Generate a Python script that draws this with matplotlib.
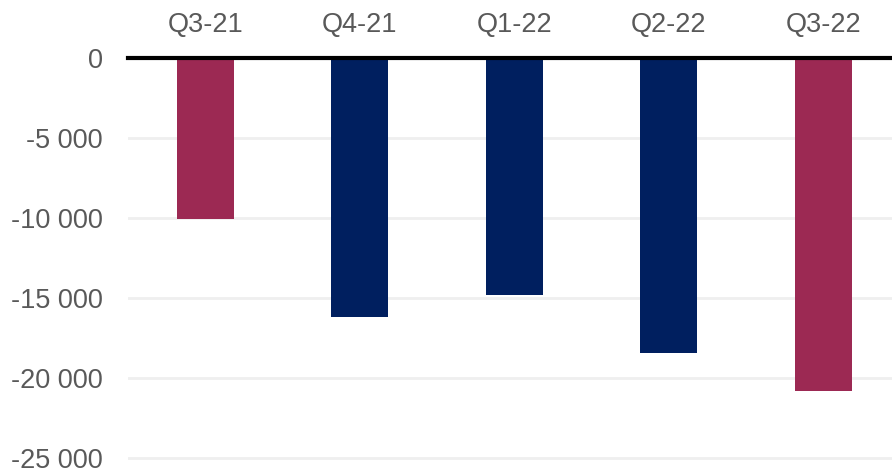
import matplotlib
matplotlib.use("Agg")
import matplotlib.pyplot as plt
from matplotlib.ticker import FuncFormatter

categories = ["Q3-21", "Q4-21", "Q1-22", "Q2-22", "Q3-22"]
values = [-10070, -16240, -14860, -18470, -20820]
colors = ["#9C2953", "#001F5F", "#001F5F", "#001F5F", "#9C2953"]
yticks = [0, -5000, -10000, -15000, -20000, -25000]

plt.rcParams['font.family'] = ['Liberation Sans', 'DejaVu Sans']

fig = plt.figure(figsize=(8.92, 4.71), dpi=100)
W, H = 892, 471
top_px, bot_px = 57.5, 463
left_px, right_px = 128, 900.5
ax = fig.add_axes([left_px / W, 1 - bot_px / H, (right_px - left_px) / W, (bot_px - top_px) / H])

x = range(len(categories))
ax.bar(x, values, width=0.37, color=colors, zorder=3)
ax.set_xlim(-0.5, len(categories) - 0.5)
ax.set_ylim(-(bot_px - top_px) / 16 * 1000, 0)
ax.set_yticks(yticks)
ax.yaxis.set_major_formatter(FuncFormatter(lambda v, p: f"{int(v):,}".replace(",", " ")))
ax.grid(axis='y', color='#EFEFEF', linewidth=2, zorder=0)
ax.axhline(0, color='black', linewidth=3, zorder=4, clip_on=False)

for s in ax.spines.values():
    s.set_visible(False)
ax.tick_params(axis='y', length=0, pad=18, labelsize=19.5, labelcolor='#595959')
ax.xaxis.tick_top()
ax.set_xticks(list(x))
ax.set_xticklabels(categories)
ax.tick_params(axis='x', length=0, pad=14, labelsize=19.5, labelcolor='#595959')

fig.savefig("out.png", dpi=100)
